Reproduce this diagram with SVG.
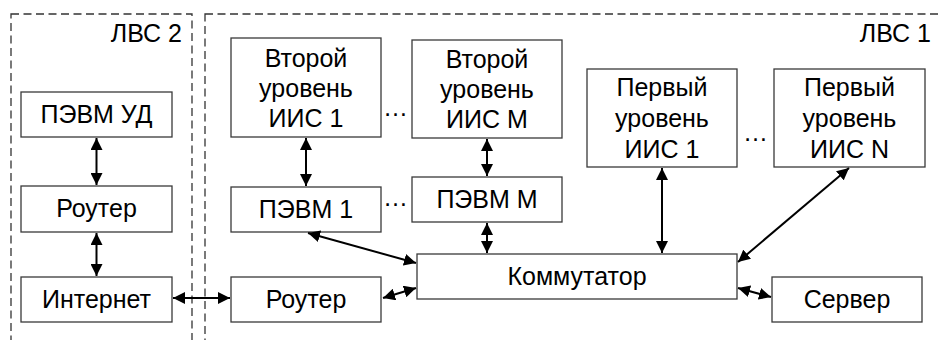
<svg xmlns="http://www.w3.org/2000/svg" width="938" height="340" viewBox="0 0 938 340">
<style>
.region{fill:none;stroke:#333;stroke-width:1.3;stroke-dasharray:8 4.5}
.box{fill:#fff;stroke:#3a3a3a;stroke-width:1.3}
.t{font-family:"Liberation Sans",Arial,sans-serif;font-size:25px;fill:#000;text-anchor:middle}
.lbl{font-family:"Liberation Sans",Arial,sans-serif;font-size:25px;fill:#000;text-anchor:end}
.c{stroke:#000;stroke-width:2;fill:none;marker-start:url(#ah);marker-end:url(#ah)}
</style>
<defs>
<marker id="ah" markerUnits="userSpaceOnUse" markerWidth="12" markerHeight="12" refX="10" refY="5" orient="auto-start-reverse" viewBox="0 0 10 10">
<path d="M0,0 L10,5 L0,10 z" fill="#000"/>
</marker>
</defs>
<rect width="938" height="340" fill="#fff"/>
<g id="lvs2">
<rect class="region" x="11" y="14" width="181" height="340"/>
<text class="lbl" x="182" y="42">ЛВС 2</text>
</g>
<g id="lvs1">
<rect class="region" x="205" y="14" width="745" height="340"/>
<text class="lbl" x="931" y="42">ЛВС 1</text>
</g>
<g id="pevm_ud"><rect class="box" x="21" y="92" width="151" height="45"/><text class="t" x="96.5" y="123">ПЭВМ УД</text></g>
<g id="router_left"><rect class="box" x="21" y="186" width="151" height="46"/><text class="t" x="96.5" y="217">Роутер</text></g>
<g id="internet"><rect class="box" x="21" y="277" width="151" height="45"/><text class="t" x="96.5" y="308">Интернет</text></g>
<g id="iis2_1"><rect class="box" x="231" y="38" width="150" height="99"/><text class="t" x="306"><tspan x="306" y="67">Второй</tspan><tspan x="306" y="97">уровень</tspan><tspan x="306" y="127">ИИС 1</tspan></text></g>
<g id="iis2_m"><rect class="box" x="412" y="40" width="150" height="98"/><text class="t" x="487"><tspan x="487" y="68">Второй</tspan><tspan x="487" y="98">уровень</tspan><tspan x="487" y="128">ИИС M</tspan></text></g>
<g id="iis1_1"><rect class="box" x="587" y="69" width="150" height="98"/><text class="t" x="662"><tspan x="662" y="96">Первый</tspan><tspan x="662" y="127">уровень</tspan><tspan x="662" y="158">ИИС 1</tspan></text></g>
<g id="iis1_n"><rect class="box" x="774" y="69" width="151" height="98"/><text class="t" x="849.5"><tspan x="849.5" y="96">Первый</tspan><tspan x="849.5" y="127">уровень</tspan><tspan x="849.5" y="158">ИИС N</tspan></text></g>
<g id="pevm_1"><rect class="box" x="231" y="187" width="150" height="45"/><text class="t" x="306" y="218">ПЭВМ 1</text></g>
<g id="pevm_m"><rect class="box" x="412" y="177" width="150" height="45"/><text class="t" x="487" y="208">ПЭВМ M</text></g>
<g id="switch"><rect class="box" x="417" y="254" width="320" height="45"/><text class="t" x="577" y="285">Коммутатор</text></g>
<g id="router_right"><rect class="box" x="231" y="277" width="150" height="45"/><text class="t" x="306" y="308">Роутер</text></g>
<g id="server"><rect class="box" x="772" y="277" width="150" height="45"/><text class="t" x="847" y="308">Сервер</text></g>
<g id="dots">
<text class="t" x="395.5" y="116">…</text>
<text class="t" x="395.5" y="206">…</text>
<text class="t" x="755.5" y="141">…</text>
</g>
<g id="connectors">
<line class="c" x1="96.5" y1="138" x2="96.5" y2="185"/>
<line class="c" x1="96.5" y1="233" x2="96.5" y2="276"/>
<line class="c" x1="173" y1="298" x2="230" y2="298"/>
<line class="c" x1="306" y1="138" x2="306" y2="186"/>
<line class="c" x1="487" y1="139" x2="487" y2="176"/>
<line class="c" x1="487" y1="223" x2="487" y2="253"/>
<line class="c" x1="308" y1="233" x2="416" y2="263"/>
<line class="c" x1="383" y1="298" x2="416" y2="288"/>
<line class="c" x1="662" y1="168" x2="662" y2="253"/>
<line class="c" x1="849" y1="168" x2="738" y2="262"/>
<line class="c" x1="738" y1="288" x2="771" y2="297"/>
</g>
</svg>
